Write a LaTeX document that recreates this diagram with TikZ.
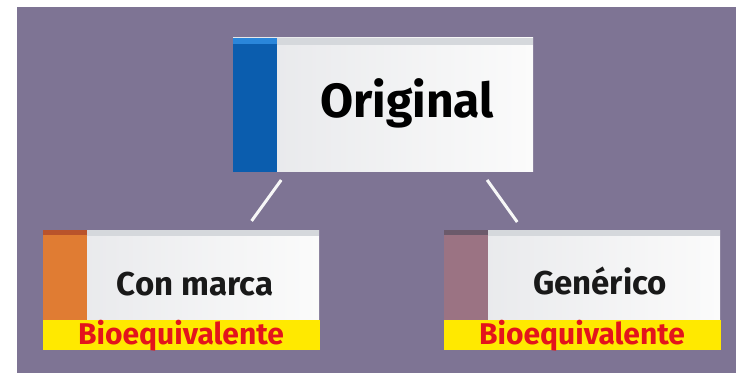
\documentclass[tikz,border=0pt]{standalone}
\usepackage{fontspec}
\setmainfont{Fira Sans}
\usetikzlibrary{calc}
\definecolor{bg}{HTML}{7E7494}
\definecolor{blueS}{HTML}{0B5DAE}
\definecolor{blueT}{HTML}{2A86DA}
\definecolor{orangeS}{HTML}{E07C33}
\definecolor{orangeT}{HTML}{B9532B}
\definecolor{mauveS}{HTML}{9B7383}
\definecolor{mauveT}{HTML}{6B5A6B}
\definecolor{cardL}{HTML}{E6E7EA}
\definecolor{cardR}{HTML}{FBFBFB}
\definecolor{cardTop}{HTML}{D5D8DC}
\definecolor{ylw}{HTML}{FFE900}
\definecolor{redT}{HTML}{E3141C}
\begin{document}
\begin{tikzpicture}[x=1pt,y=-1pt,
  card/.style={rectangle, draw=none, inner sep=0pt, outer sep=0pt,
    left color=cardL, right color=cardR, anchor=north west},
  band/.style={rectangle, draw=none, fill=ylw, inner sep=0pt, outer sep=0pt,
    anchor=north west},
  bigtext/.style={font=\fontsize{48}{58}\selectfont\bfseries, text=black, anchor=base, inner sep=0pt},
  midtext/.style={font=\fontsize{33}{40}\selectfont\bfseries, text=black!90, anchor=base, inner sep=0pt},
  biotext/.style={font=\fontsize{30}{36}\selectfont\bfseries, text=redT, anchor=base, inner sep=0pt},
  conn/.style={draw=white!94!gray, line width=3pt}]
\useasboundingbox (0,0) rectangle (736,374);
\fill[bg] (17,7) rectangle (736,373);

% Original card
\node[card, minimum width=300pt, minimum height=134pt] (orig) at (233,38) {};
\fill[cardTop] ([xshift=44pt]orig.north west) rectangle ([yshift=-7pt]orig.north east);
\fill[blueS] (orig.north west) rectangle ([xshift=44pt]orig.south west);
\fill[blueT] (orig.north west) rectangle ([xshift=44pt,yshift=-6pt]orig.north west);
\node[bigtext] (origT) at (407,118) {Original};

% Con marca card
\node[card, minimum width=276pt, minimum height=90pt] (conm) at (43,230) {};
\fill[cardTop] ([xshift=44pt]conm.north west) rectangle ([yshift=-6pt]conm.north east);
\fill[orangeS] (conm.north west) rectangle ([xshift=44pt]conm.south west);
\fill[orangeT] (conm.north west) rectangle ([xshift=44pt,yshift=-5pt]conm.north west);
\node[band, minimum width=277pt, minimum height=30pt] (bio1) at (43,320) {};
\node[midtext] (conmT) at (195,295) {Con marca};
\node[biotext] (bio1T) at (181,344) {Bioequivalente};

% Generico card
\node[card, minimum width=276pt, minimum height=90pt] (gen) at (444,230) {};
\fill[cardTop] ([xshift=44pt]gen.north west) rectangle ([yshift=-6pt]gen.north east);
\fill[mauveS] (gen.north west) rectangle ([xshift=44pt]gen.south west);
\fill[mauveT] (gen.north west) rectangle ([xshift=44pt,yshift=-5pt]gen.north west);
\node[band, minimum width=277pt, minimum height=30pt] (bio2) at (444,320) {};
\node[midtext] (genT) at (600,294) {Genérico};
\node[biotext] (bio2T) at (582,344) {Bioequivalente};

% connectors
\draw[conn, shorten <=9.9pt, shorten >=11.2pt]
  ($(orig.south west)!0.18!(orig.south east)$) -- ($(conm.north west)!0.732!(conm.north east)$);
\draw[conn, shorten <=9.8pt, shorten >=9.8pt]
  ($(orig.south west)!0.828!(orig.south east)$) -- ($(gen.north west)!0.286!(gen.north east)$);
\end{tikzpicture}
\end{document}
